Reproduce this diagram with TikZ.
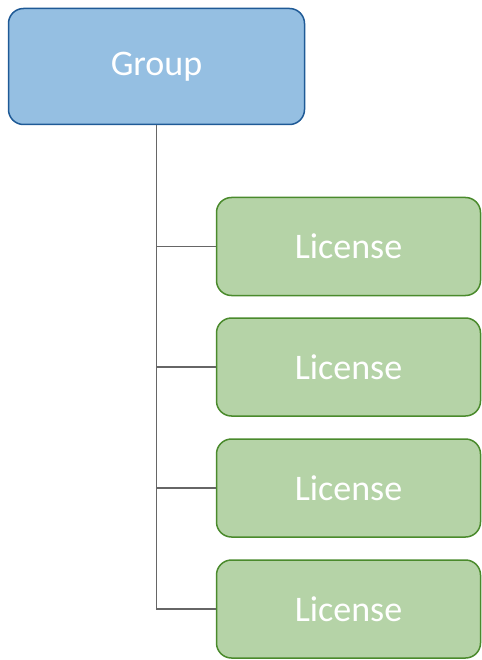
\documentclass[tikz,border=0pt]{standalone}
\usepackage{fontspec}
\setmainfont{Carlito}
\definecolor{grpfill}{HTML}{95BFE2}
\definecolor{grpline}{HTML}{1F5A96}
\definecolor{licfill}{HTML}{B5D3A7}
\definecolor{licline}{HTML}{4A8A2C}
\definecolor{wire}{HTML}{666666}
\begin{document}
\begin{tikzpicture}[x=1pt,y=-1pt]
      \tikzstyle{every node}+=[inner sep=0pt]
      \tikzstyle{grpbox}=[draw=grpline, fill=grpfill, line width=1.5pt, rounded corners=15pt, minimum width=296pt, minimum height=116pt, text=white, font=\fontsize{36}{42}\selectfont]
      \tikzstyle{licbox}=[draw=licline, fill=licfill, line width=1.5pt, rounded corners=15pt, minimum width=264pt, minimum height=98pt, text=white, font=\fontsize{36}{42}\selectfont]
      \useasboundingbox (0,0) rectangle (481,660);
      \node [grpbox] (grp) at (156.5,66.5) {Group};
      \node [licbox] (lic1) at (348.5,246.5) {License};
      \node [licbox] (lic2) at (348.5,367) {License};
      \node [licbox] (lic3) at (348.5,488) {License};
      \node [licbox] (lic4) at (348.5,609) {License};
      \draw [wire, line width=1.6pt] (grp.south) |- (lic4.west);
      \draw [wire, line width=1.6pt] (grp.south |- lic1.west) -- (lic1.west);
      \draw [wire, line width=1.6pt] (grp.south |- lic2.west) -- (lic2.west);
      \draw [wire, line width=1.6pt] (grp.south |- lic3.west) -- (lic3.west);
    \end{tikzpicture}
\end{document}
